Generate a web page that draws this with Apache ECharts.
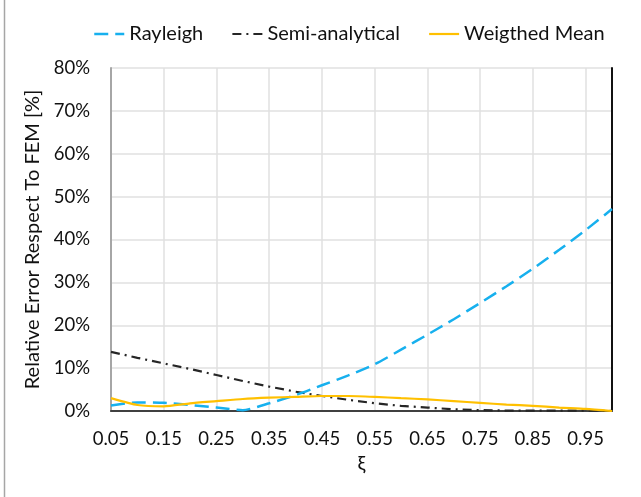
<!DOCTYPE html>
<html>
<head>
<meta charset="utf-8">
<script src="https://cdn.jsdelivr.net/npm/echarts@6/dist/echarts.min.js"></script>
<style>
  html, body { margin: 0; padding: 0; background: #fff; }
  #chart { width: 641px; height: 497px; }
</style>
</head>
<body>
<div id="chart"></div>
<script>
// ξ samples (every 0.05); labels are shown on every other one
const xi = ['0.05','0.10','0.15','0.20','0.25','0.30','0.35','0.40','0.45','0.50',
            '0.55','0.60','0.65','0.70','0.75','0.80','0.85','0.90','0.95','1.00'];

// Relative error with respect to FEM, in percent
const rayleigh = [1.3, 2.0, 1.9, 1.4, 0.8, 0.2, 1.8, 3.7, 6.0, 8.3,
                  10.9, 14.3, 17.8, 21.4, 25.2, 29.1, 33.2, 37.6, 42.2, 47.1];
const semiAnalytical = [13.8, 12.4, 11.1, 9.8, 8.4, 7.0, 5.7, 4.5, 3.5, 2.6,
                        1.8, 1.2, 0.8, 0.4, 0.2, 0.1, 0.1, 0.1, 0.1, 0.0];
const weightedMean = [3.0, 1.4, 1.1, 1.8, 2.3, 2.8, 3.1, 3.3, 3.5, 3.5,
                      3.3, 3.0, 2.7, 2.3, 1.9, 1.5, 1.2, 0.8, 0.5, 0.0];

const seriesNames = ['Rayleigh', 'Semi-analytical', 'Weigthed Mean'];
const yMin = 0, yMax = 80, yStep = 10;

const FONT = 'Lato, "Open Sans", sans-serif';
const TEXT = '#111111';

const BLUE = '#17b0ee';
const BLACK = '#262626';
const GOLD = '#ffc000';
const DASH = [14, 7];
const DASH_DOT = [9, 5, 2, 5];

const chart = echarts.init(document.getElementById('chart'), null, { renderer: 'canvas' });

chart.setOption({
  backgroundColor: '#ffffff',
  animation: false,
  textStyle: { fontFamily: FONT, color: TEXT },
  graphic: [{
    type: 'line',
    shape: { x1: 4.5, y1: 0, x2: 4.5, y2: 497 },
    style: { stroke: '#a6a6a6', lineWidth: 1.5 }
  }],
  legend: {
    top: 19,
    left: 88,
    itemWidth: 30,
    itemHeight: 14,
    itemGap: 28,
    itemStyle: { opacity: 0 },
    textStyle: { fontFamily: FONT, fontSize: 20, color: TEXT },
    data: [
      { name: seriesNames[0], lineStyle: { color: BLUE, width: 2.5, type: DASH } },
      { name: seriesNames[1], lineStyle: { color: BLACK, width: 2.2, type: DASH_DOT } },
      { name: seriesNames[2], lineStyle: { color: GOLD, width: 2.2, type: 'solid' } }
    ]
  },
  grid: { left: 111, right: 29, top: 68, bottom: 86, containLabel: false },
  xAxis: [{
    type: 'category',
    data: xi,
    boundaryGap: false,
    name: 'ξ',
    nameLocation: 'middle',
    nameGap: 43,
    nameTextStyle: { fontFamily: FONT, fontSize: 20, color: TEXT },
    axisLine: { lineStyle: { color: '#a6a6a6', width: 2 } },
    axisTick: { show: false },
    axisLabel: { interval: 1, margin: 19, fontSize: 18.5, color: TEXT, fontFamily: FONT },
    splitLine: { show: true, interval: 1, lineStyle: { color: '#e0e0e0', width: 1.5 } }
  }, {
    type: 'category',
    data: xi,
    boundaryGap: false,
    position: 'top',
    axisLine: { lineStyle: { color: '#404040', width: 2 } },
    axisTick: { show: false },
    axisLabel: { show: false },
    splitLine: { show: false }
  }],
  yAxis: [{
    type: 'value',
    min: yMin,
    max: yMax,
    interval: yStep,
    name: 'Relative Error Respect To FEM [%]',
    nameLocation: 'middle',
    nameGap: 59,
    nameTextStyle: { fontFamily: FONT, fontSize: 20, color: TEXT },
    axisLine: { show: true, lineStyle: { color: '#a6a6a6', width: 2 } },
    axisTick: { show: false },
    axisLabel: { formatter: '{value}%', margin: 21, fontSize: 18.5, color: TEXT, fontFamily: FONT },
    splitLine: { show: true, lineStyle: { color: '#e0e0e0', width: 1.5 } }
  }, {
    type: 'value',
    min: yMin,
    max: yMax,
    interval: yStep,
    position: 'right',
    axisLine: { show: true, lineStyle: { color: '#111111', width: 2 } },
    axisTick: { show: false },
    axisLabel: { show: false },
    splitLine: { show: false }
  }],
  series: [{
    name: seriesNames[0],
    type: 'line',
    data: rayleigh,
    symbol: 'none',
    smooth: 0.2,
    color: BLUE,
    lineStyle: { color: BLUE, width: 2.5, type: DASH },
    z: 3
  }, {
    name: seriesNames[1],
    type: 'line',
    data: semiAnalytical,
    symbol: 'none',
    color: BLACK,
    lineStyle: { color: BLACK, width: 2.2, type: DASH_DOT },
    z: 2
  }, {
    name: seriesNames[2],
    type: 'line',
    data: weightedMean,
    symbol: 'none',
    smooth: 0.2,
    color: GOLD,
    lineStyle: { color: GOLD, width: 2.2 },
    z: 4
  }]
});
</script>
</body>
</html>
